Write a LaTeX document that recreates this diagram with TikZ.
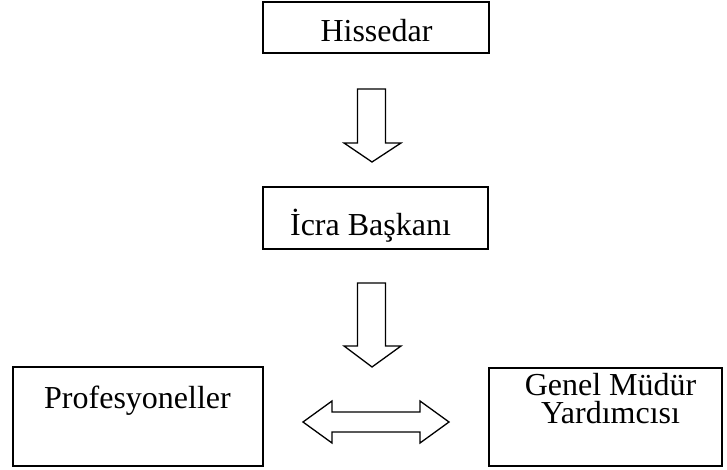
\documentclass[tikz,border=0pt]{standalone}
\usepackage{fontspec}
\setmainfont{Liberation Serif}
\begin{document}
\begin{tikzpicture}[x=1pt,y=-1pt,
  box/.style={draw, line width=1.6pt, inner sep=0pt},
  lbl/.style={anchor=base, inner sep=0pt, font=\fontsize{32}{28}\selectfont, align=center},
  blockarrow/.style={draw, line width=1.3pt, line join=miter, fill=white}]
\useasboundingbox (0,0) rectangle (727,470);
% boxes
\node[box, minimum width=226pt, minimum height=51pt] (hissedar) at (376,27.5) {};
\node[box, minimum width=225pt, minimum height=62pt] (icra) at (375.5,218) {};
\node[box, minimum width=250pt, minimum height=99pt] (prof) at (138,416.5) {};
\node[box, minimum width=233pt, minimum height=98pt] (genel) at (605.5,417) {};
% texts
\node[lbl] (t1) at (376.5,42) {Hissedar};
\node[lbl] (t2) at (370.5,235) {İcra Başkanı};
\node[lbl] (t3) at (137.5,408) {Profesyoneller};
\node[lbl] (t4) at (610.5,423.5) {Genel Müdür\\Yardımcısı};
% down arrow 1
\draw[blockarrow] (357.5,89) -- (385.5,89) -- (385.5,143) -- (401,143) -- (372,162)
  -- (344,143) -- (357.5,143) -- cycle;
% down arrow 2
\draw[blockarrow] (357.5,283) -- (385.5,283) -- (385.5,346) -- (401,346) -- (372,367)
  -- (344,346) -- (357.5,346) -- cycle;
% double arrow
\draw[blockarrow] (303,422) -- (332,401) -- (332,412) -- (420,412) -- (420,401)
  -- (449,422) -- (420,443) -- (420,432) -- (332,432) -- (332,443) -- cycle;
\end{tikzpicture}
\end{document}
